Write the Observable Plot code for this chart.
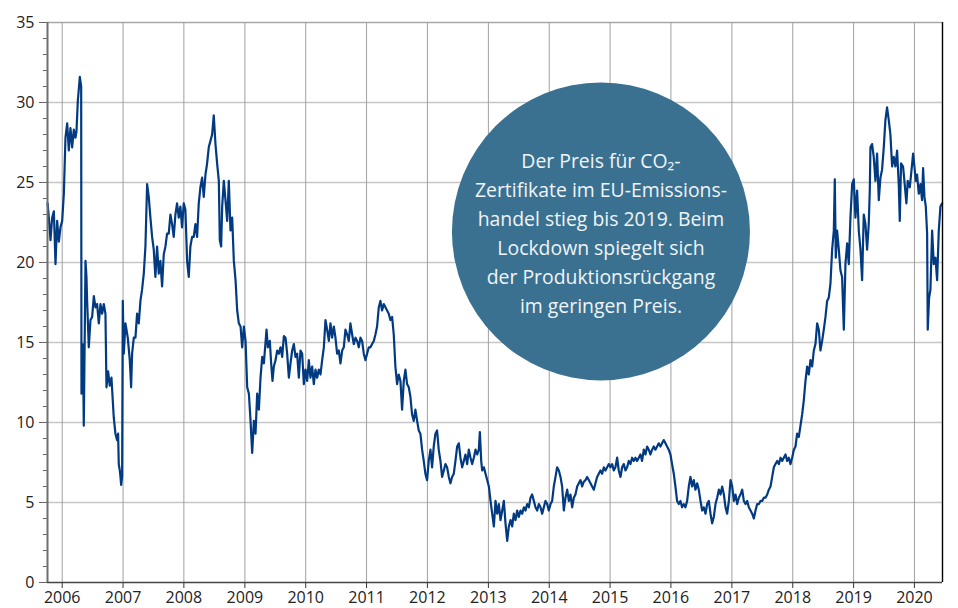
<!DOCTYPE html>
<html>
<head>
<meta charset="utf-8">
<script src="https://cdn.jsdelivr.net/npm/d3@7"></script>
<script src="https://cdn.jsdelivr.net/npm/@observablehq/plot@0.6"></script>
<style>
  html, body { margin: 0; padding: 0; background: #fff; }
  #chart svg { display: block; }
</style>
</head>
<body>
<div id="chart"></div>
<script>
// Decimal-year dates and CO2 certificate prices (EUR)
const years = [
2005.76,2005.78,2005.808,2005.835,2005.863,2005.89,2005.917,2005.945,2005.972,2006.0,
2006.027,2006.054,2006.082,2006.109,2006.136,2006.164,2006.191,2006.218,2006.235,2006.257,
2006.29,2006.312,2006.317,2006.322,2006.333,2006.344,2006.355,2006.372,2006.383,2006.399,
2006.41,2006.437,2006.465,2006.492,2006.52,2006.547,2006.574,2006.602,2006.629,2006.656,
2006.684,2006.711,2006.728,2006.755,2006.782,2006.81,2006.837,2006.848,2006.875,2006.903,
2006.919,2006.93,2006.947,2006.958,2006.969,2006.985,2006.996,2007.012,2007.04,2007.078,
2007.111,2007.133,2007.149,2007.177,2007.204,2007.231,2007.259,2007.286,2007.313,2007.341,
2007.368,2007.396,2007.423,2007.45,2007.478,2007.505,2007.532,2007.56,2007.587,2007.614,
2007.642,2007.669,2007.697,2007.724,2007.751,2007.779,2007.806,2007.833,2007.861,2007.888,
2007.916,2007.943,2007.97,2007.998,2008.025,2008.053,2008.08,2008.107,2008.135,2008.162,
2008.189,2008.217,2008.244,2008.271,2008.299,2008.326,2008.354,2008.381,2008.408,2008.436,
2008.463,2008.49,2008.518,2008.545,2008.573,2008.589,2008.611,2008.628,2008.655,2008.682,
2008.71,2008.737,2008.764,2008.792,2008.819,2008.847,2008.874,2008.901,2008.929,2008.956,
2008.983,2009.011,2009.038,2009.066,2009.093,2009.12,2009.148,2009.175,2009.202,2009.23,
2009.257,2009.285,2009.312,2009.356,2009.378,2009.41,2009.432,2009.454,2009.476,2009.504,
2009.531,2009.558,2009.586,2009.613,2009.641,2009.668,2009.695,2009.723,2009.75,2009.777,
2009.805,2009.832,2009.859,2009.887,2009.914,2009.942,2009.969,2009.996,2010.024,2010.051,
2010.078,2010.106,2010.133,2010.161,2010.188,2010.215,2010.243,2010.27,2010.298,2010.325,
2010.352,2010.38,2010.407,2010.434,2010.462,2010.489,2010.516,2010.544,2010.571,2010.599,
2010.626,2010.653,2010.681,2010.708,2010.735,2010.763,2010.79,2010.818,2010.845,2010.872,
2010.9,2010.927,2010.954,2010.982,2011.009,2011.037,2011.064,2011.091,2011.119,2011.146,
2011.173,2011.201,2011.228,2011.255,2011.283,2011.31,2011.338,2011.365,2011.392,2011.42,
2011.447,2011.474,2011.502,2011.529,2011.557,2011.584,2011.612,2011.639,2011.666,2011.694,
2011.721,2011.748,2011.776,2011.803,2011.831,2011.858,2011.885,2011.913,2011.94,2011.967,
2011.995,2012.022,2012.05,2012.077,2012.104,2012.132,2012.159,2012.186,2012.214,2012.241,
2012.269,2012.296,2012.323,2012.351,2012.378,2012.405,2012.433,2012.46,2012.488,2012.515,
2012.542,2012.57,2012.597,2012.624,2012.652,2012.679,2012.707,2012.734,2012.761,2012.789,
2012.816,2012.843,2012.86,2012.882,2012.898,2012.926,2012.953,2012.98,2013.008,2013.035,
2013.062,2013.09,2013.117,2013.145,2013.172,2013.199,2013.227,2013.254,2013.281,2013.309,
2013.336,2013.364,2013.391,2013.418,2013.446,2013.473,2013.5,2013.528,2013.555,2013.583,
2013.61,2013.637,2013.665,2013.692,2013.719,2013.747,2013.774,2013.802,2013.829,2013.856,
2013.884,2013.911,2013.938,2013.966,2013.993,2014.021,2014.048,2014.075,2014.103,2014.13,
2014.158,2014.185,2014.212,2014.24,2014.267,2014.295,2014.322,2014.349,2014.377,2014.404,
2014.431,2014.459,2014.486,2014.514,2014.541,2014.568,2014.596,2014.623,2014.65,2014.678,
2014.705,2014.733,2014.76,2014.787,2014.815,2014.842,2014.869,2014.897,2014.924,2014.952,
2014.979,2015.006,2015.034,2015.061,2015.088,2015.116,2015.143,2015.171,2015.198,2015.225,
2015.253,2015.28,2015.307,2015.335,2015.362,2015.39,2015.417,2015.444,2015.472,2015.499,
2015.526,2015.554,2015.581,2015.609,2015.636,2015.663,2015.691,2015.718,2015.745,2015.773,
2015.8,2015.828,2015.855,2015.882,2015.91,2015.937,2015.964,2015.992,2016.019,2016.047,
2016.074,2016.101,2016.129,2016.156,2016.183,2016.211,2016.238,2016.266,2016.293,2016.32,
2016.348,2016.375,2016.402,2016.43,2016.457,2016.485,2016.512,2016.539,2016.567,2016.594,
2016.621,2016.649,2016.676,2016.703,2016.731,2016.758,2016.786,2016.813,2016.84,2016.868,
2016.895,2016.922,2016.95,2016.977,2017.005,2017.032,2017.059,2017.087,2017.114,2017.141,
2017.169,2017.196,2017.224,2017.251,2017.278,2017.306,2017.333,2017.36,2017.388,2017.415,
2017.443,2017.47,2017.497,2017.525,2017.552,2017.58,2017.607,2017.634,2017.662,2017.689,
2017.716,2017.744,2017.771,2017.799,2017.826,2017.853,2017.881,2017.908,2017.935,2017.963,
2017.99,2018.018,2018.045,2018.072,2018.1,2018.127,2018.154,2018.182,2018.209,2018.237,
2018.264,2018.291,2018.319,2018.346,2018.373,2018.401,2018.428,2018.455,2018.483,2018.51,
2018.538,2018.565,2018.592,2018.62,2018.647,2018.675,2018.691,2018.707,2018.729,2018.757,
2018.784,2018.811,2018.839,2018.866,2018.894,2018.921,2018.948,2018.976,2019.003,2019.03,
2019.058,2019.085,2019.113,2019.14,2019.167,2019.195,2019.222,2019.249,2019.266,2019.277,
2019.304,2019.331,2019.359,2019.386,2019.414,2019.441,2019.468,2019.496,2019.523,2019.55,
2019.578,2019.605,2019.633,2019.66,2019.687,2019.715,2019.742,2019.759,2019.78,2019.813,
2019.835,2019.868,2019.89,2019.923,2019.945,2019.978,2020.0,2020.021,2020.043,2020.071,
2020.098,2020.125,2020.142,2020.164,2020.186,2020.208,2020.218,2020.24,2020.262,2020.29,
2020.317,2020.344,2020.372,2020.399,2020.426,2020.454
];
const prices = [
23.7,22.8,21.4,22.8,23.2,19.9,22.6,21.3,22.2,22.6,
24.3,27.8,28.7,27.0,28.4,27.2,28.3,27.8,28.2,30.1,
31.6,31.0,11.8,12.0,14.9,13.9,9.8,16.0,20.1,19.1,
17.6,14.7,16.4,16.6,17.9,17.2,17.4,16.2,17.4,16.8,
17.4,16.8,12.2,13.2,12.3,12.8,11.0,10.3,9.3,8.9,
9.3,7.4,7.0,6.6,6.1,6.6,17.6,14.3,16.2,15.3,
13.9,12.2,14.3,15.3,15.3,16.8,16.2,17.6,18.3,19.3,
21.0,24.9,24.1,22.8,21.6,20.8,19.1,21.0,19.3,20.1,
18.5,20.5,21.0,21.8,21.8,23.0,22.4,21.6,23.0,23.7,
22.8,23.5,22.2,23.7,23.3,20.1,19.1,21.0,21.6,21.6,
22.4,21.6,23.7,24.7,25.3,24.1,25.5,26.2,27.2,27.6,
28.0,29.2,27.4,26.2,25.1,21.4,21.0,23.5,25.1,23.9,
22.6,25.1,22.0,22.8,20.1,18.9,17.0,16.2,16.0,14.7,
16.0,15.1,12.2,11.8,10.1,8.1,10.1,9.3,11.8,10.8,
12.8,14.1,13.7,15.8,14.7,15.1,13.7,12.6,13.5,13.9,
14.5,14.3,14.7,14.1,15.4,15.3,14.3,12.8,13.7,14.5,
14.9,14.1,14.3,12.8,14.5,14.3,12.4,13.3,12.6,13.9,
12.8,13.5,12.4,13.3,12.8,13.3,13.0,13.9,14.7,16.4,
15.8,15.1,16.2,15.3,16.0,15.3,14.3,14.5,13.7,14.5,
14.7,15.8,15.5,15.1,16.2,15.5,14.9,15.3,15.1,14.7,
15.3,15.1,14.3,13.9,14.3,14.7,14.7,14.9,15.1,15.5,
16.0,17.2,17.6,17.0,17.4,17.2,17.0,16.8,16.4,16.6,
15.5,13.5,12.4,13.0,12.6,10.8,12.6,13.3,12.4,12.2,
11.6,10.5,10.1,10.8,10.1,9.5,9.3,8.3,7.6,6.8,
6.4,7.6,8.3,7.2,8.5,9.3,9.5,8.3,7.6,6.6,
7.0,7.4,7.2,6.6,6.2,6.6,6.8,7.6,8.5,8.7,
7.8,7.2,7.6,8.0,7.4,8.3,7.8,7.4,7.8,8.3,
8.0,8.3,9.4,7.6,7.0,7.2,6.8,6.4,6.0,5.1,
4.3,3.5,5.1,4.3,4.9,3.9,4.5,5.1,3.7,2.6,
3.5,3.9,3.5,4.3,3.9,4.5,4.1,4.5,4.3,4.7,
4.5,4.9,4.7,5.3,5.5,5.1,4.7,4.5,4.9,4.7,
4.3,4.7,5.1,4.9,4.5,4.9,5.1,6.0,6.6,7.2,
7.0,6.6,6.0,4.5,5.3,5.8,5.1,5.5,4.7,5.3,
5.5,6.0,6.2,6.4,6.0,6.3,6.4,6.6,6.4,6.2,
6.0,5.8,6.2,6.6,6.8,7.0,6.8,7.2,7.0,7.2,
7.4,7.2,7.4,7.0,7.2,7.8,7.0,6.6,7.2,7.4,
7.0,7.2,7.6,7.4,7.8,7.6,7.8,7.6,7.8,8.0,
7.6,8.3,8.0,8.5,8.3,8.0,8.3,8.5,8.3,8.5,
8.7,8.5,8.7,8.9,8.7,8.5,8.3,8.0,7.4,6.8,
6.0,5.1,4.9,5.1,4.7,4.9,4.7,5.1,6.0,6.6,
6.0,6.4,5.8,6.2,5.8,5.1,4.5,4.7,4.3,4.9,
5.1,4.3,3.7,4.1,4.9,5.3,5.8,5.5,6.0,5.5,
4.7,4.3,5.1,6.4,6.0,5.1,5.5,4.9,5.3,5.5,
5.8,5.1,4.9,5.1,4.7,4.5,4.3,4.0,4.5,4.9,
4.9,5.1,5.1,5.3,5.3,5.5,5.8,6.0,6.6,7.2,
7.4,7.6,7.4,7.8,7.6,7.8,8.0,7.6,7.8,7.4,
7.8,8.3,8.5,9.3,9.1,9.8,10.5,11.4,12.6,13.5,
13.0,13.9,13.5,14.5,14.9,16.2,15.8,14.5,15.1,15.8,
16.6,17.6,17.8,18.7,20.8,22.0,25.2,20.3,22.0,20.8,
19.5,19.1,15.8,19.9,21.2,19.9,22.8,24.9,25.2,22.8,
24.5,22.0,20.8,18.9,23.0,22.4,20.8,22.4,24.5,27.2,
27.4,26.6,25.1,26.8,23.9,25.3,25.8,27.2,28.9,29.7,
28.9,28.0,26.0,26.6,26.0,27.0,24.9,22.6,26.2,26.0,
25.1,23.7,25.1,24.7,25.5,26.8,26.0,25.1,25.5,24.3,
24.9,23.9,25.9,24.1,23.5,21.8,15.8,17.8,18.3,22.0,
19.9,20.3,18.9,22.0,23.5,23.7
];

// axis ticks
const yearTicks = d3.range(2006, 2021);
const yMajor = [0, 5, 10, 15, 20, 25, 30, 35];
const yMinor = d3.range(0, 36, 1);
const xDomainYears = [2005.7585, 2020.46];

// annotation
const noteText = "Der Preis für CO₂-\nZertifikate im EU-Emissions-\nhandel stieg bis 2019. Beim\nLockdown spiegelt sich\nder Produktionsrückgang\nim geringen Preis.";
const notePos = { year: 2014.85, price: 21.94 };

const toDate = d => {
  const y = Math.floor(d);
  const a = Date.UTC(y, 0, 1), b = Date.UTC(y + 1, 0, 1);
  return new Date(a + (d - y) * (b - a));
};
const data = years.map((t, i) => ({ date: toDate(t), price: prices[i] }));
const yearDates = yearTicks.map(y => new Date(Date.UTC(y, 0, 1)));
const xStart = toDate(xDomainYears[0]), xEnd = toDate(xDomainYears[1]);
const note = [{ date: toDate(notePos.year), price: notePos.price, text: noteText }];

const chart = Plot.plot({
  width: 958,
  height: 608,
  marginLeft: 47,
  marginRight: 16,
  marginTop: 22,
  marginBottom: 26,
  style: { fontFamily: "'Open Sans', sans-serif", fontSize: "16px", color: "#222", background: "#fff" },
  x: { type: "utc", domain: [xStart, xEnd], label: null },
  y: { domain: [0, 35], label: null },
  marks: [
    Plot.ruleY(yMajor.filter(v => v > 0 && v < 35), { stroke: "#c6c6c6", strokeWidth: 1.4 }),
    Plot.ruleY([35], { stroke: "#a8a8a8", strokeWidth: 1.4 }),
    Plot.ruleX(yearDates, { stroke: "#a0a0a0", strokeWidth: 1 }),
    Plot.line(data, { x: "date", y: "price", stroke: "#023a82", strokeWidth: 2.2, strokeLinejoin: "round" }),
    Plot.dot(note, { x: "date", y: "price", r: 149, fill: "#3a7191", stroke: null }),
    Plot.text(note, { x: "date", y: "price", text: "text", fill: "#f0f4f7", fontSize: 19.4, lineHeight: 1.495, textAnchor: "middle" }),
    Plot.axisY({ ticks: yMinor, tickSize: 4, tickFormat: () => "", stroke: "#666", label: null }),
    Plot.axisY({ ticks: yMajor, tickSize: 8, tickPadding: 5, stroke: "#666", fill: "#222", fontSize: 16, label: null }),
    Plot.axisX({ ticks: yearDates, tickSize: 6, tickPadding: 3, tickFormat: d3.utcFormat("%Y"), stroke: "#333", fill: "#222", fontSize: 16, label: null }),
    Plot.ruleX([xStart], { stroke: "#6f6f6f", strokeWidth: 2 }),
    Plot.ruleY([0], { stroke: "#444", strokeWidth: 1.6 }),
    Plot.ruleX([xEnd], { stroke: "#000", strokeWidth: 1.4 })
  ]
});
document.getElementById("chart").appendChild(chart);
</script>
</body>
</html>
